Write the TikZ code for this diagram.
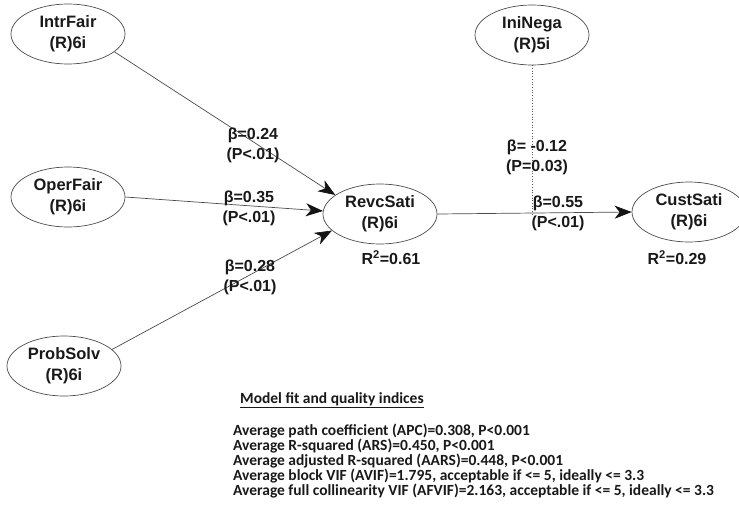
\documentclass[tikz,border=0pt]{standalone}
\usepackage{fontspec}
\setmainfont{Liberation Sans}
\newfontfamily\carl{Carlito}
\usetikzlibrary{shapes.geometric,arrows.meta}
\begin{document}
\begin{tikzpicture}[x=1pt,y=-1pt,
  lv/.style={ellipse,draw=black!70,line width=0.7pt,minimum width=114pt,minimum height=60pt,inner sep=0pt,align=center,font=\bfseries\fontsize{16.5}{21}\selectfont,text=black!90},
  lbl/.style={align=center,inner sep=0pt,font=\bfseries\fontsize{16}{20}\selectfont,text=black!90},
  conn/.style={draw=black!70,line width=0.7pt,-{Stealth[length=17pt,width=13pt,inset=5pt,color=black!92]}},
  idx/.style={anchor=base west,inner sep=0pt,font=\carl\bfseries\fontsize{15.5}{15}\selectfont,text=black!90}
]
\useasboundingbox (0,0) rectangle (739,512);
\clip (0,0) rectangle (739,512);
\fill[white] (0,0) rectangle (739,512);

\node[lv] (intr) at (68,34) {IntrFair\\(R)6i};
\node[lv] (oper) at (68,197) {OperFair\\(R)6i};
\node[lv] (prob) at (64,366) {ProbSolv\\(R)6i};
\node[lv] (revc) at (380,214) {RevcSati\\(R)6i};
\node[lv] (inin) at (532,35) {IniNega\\(R)5i};
\node[lv] (cust) at (689,212) {CustSati\\(R)6i};

\draw[conn] (intr.-21) -- (revc.157);
\draw[conn] (oper.0) -- (revc.177);
\draw[conn] (prob.19) -- (revc.-161);
\draw[conn] (revc.0) -- (cust.180);
\coordinate (m) at (inin.south |- revc.east);
\draw[black!65,line width=0.7pt,dotted] (inin.south) -- (m);

\node[lbl] (b1) at (253,145) {β=0.24\\(P<.01)};
\node[lbl] (b2) at (249,208) {β=0.35\\(P<.01)};
\node[lbl] (b3) at (250,277) {β=0.28\\(P<.01)};
\node[lbl] (b4) at (537,157) {β= -0.12\\(P=0.03)};
\node[lbl] (b5) at (558,213) {β=0.55\\(P<.01)};

\node[lbl] (r1) at (391,258) {R\textsuperscript{2}=0.61};
\node[lbl] (r2) at (677,258) {R\textsuperscript{2}=0.29};

\node[idx] (hd) at (240,403) {\underline{Model fit and quality indices}};
\node[idx] (l1) at (233,435) {Average path coefficient (APC)=0.308, P<0.001};
\node[idx] (l2) at (233,450) {Average R-squared (ARS)=0.450, P<0.001};
\node[idx] (l3) at (233,465) {Average adjusted R-squared (AARS)=0.448, P<0.001};
\node[idx] (l4) at (233,480) {Average block VIF (AVIF)=1.795, acceptable if <= 5, ideally <= 3.3};
\node[idx] (l5) at (233,495) {Average full collinearity VIF (AFVIF)=2.163, acceptable if <= 5, ideally <= 3.3};
\end{tikzpicture}
\end{document}
